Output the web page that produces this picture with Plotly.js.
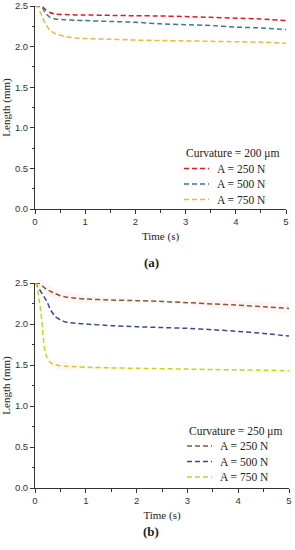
<!DOCTYPE html>
<html>
<head>
<meta charset="utf-8">
<script src="https://cdn.plot.ly/plotly-3.0.1.min.js"></script>
<style>html,body{margin:0;padding:0;background:#fff;}#chart{width:295px;height:550px;}</style>
</head>
<body>
<div id="chart"></div>
<script>
// ---- Data (a): curvature = 200 µm ----
const timeA = [0, 0.05, 0.1, 0.15, 0.2, 0.3, 0.4, 0.6, 0.8, 1.0, 1.5, 2, 2.5, 3, 3.5, 4, 4.5, 5];
const a250 = [2.5, 2.5, 2.5, 2.49, 2.46, 2.42, 2.40, 2.395, 2.39, 2.39, 2.385, 2.38, 2.377, 2.37, 2.36, 2.35, 2.34, 2.32];
const a500 = [2.5, 2.5, 2.5, 2.48, 2.42, 2.36, 2.34, 2.33, 2.325, 2.32, 2.31, 2.30, 2.28, 2.27, 2.26, 2.24, 2.23, 2.21];
const a750 = [2.5, 2.5, 2.43, 2.36, 2.29, 2.20, 2.16, 2.125, 2.105, 2.10, 2.09, 2.08, 2.075, 2.07, 2.065, 2.06, 2.055, 2.04];

// ---- Data (b): curvature = 250 µm ----
const timeB = [0, 0.03, 0.08, 0.12, 0.15, 0.18, 0.23, 0.3, 0.4, 0.5, 0.6, 0.8, 1.0, 1.5, 2, 2.5, 3, 3.5, 4, 4.5, 5];
const b250 = [2.5, 2.5, 2.495, 2.48, 2.46, 2.445, 2.42, 2.40, 2.37, 2.345, 2.33, 2.313, 2.305, 2.292, 2.285, 2.275, 2.26, 2.245, 2.23, 2.21, 2.19];
const b500 = [2.5, 2.48, 2.43, 2.39, 2.36, 2.33, 2.28, 2.18, 2.09, 2.05, 2.025, 2.01, 2.00, 1.98, 1.967, 1.957, 1.947, 1.93, 1.91, 1.885, 1.853];
const b750 = [2.5, 2.48, 2.30, 2.13, 1.93, 1.73, 1.60, 1.53, 1.505, 1.49, 1.485, 1.478, 1.472, 1.465, 1.46, 1.455, 1.45, 1.445, 1.44, 1.437, 1.43];
// faint shaded spread (b)
const b250Spread = [0, 0.01, 0.03, 0.05, 0.06, 0.06, 0.06, 0.06, 0.06, 0.06, 0.06, 0.06, 0.05, 0.03, 0.01, 0.01, 0.02, 0.05, 0.06, 0.06, 0.06];
const b750Spread = [0, 0, 0, 0, 0, 0, 0.03, 0.05, 0.05, 0.05, 0.05, 0.04, 0.02, 0.01, 0, 0, 0, 0, 0, 0, 0];

const seriesNames = ['A = 250 N', 'A = 500 N', 'A = 750 N'];
const legendTitles = ['Curvature = 200 μm', 'Curvature = 250 μm'];
const panelLabels = ['(a)', '(b)'];
const xTicks = [0, 1, 2, 3, 4, 5];
const yTicks = [0.0, 0.5, 1.0, 1.5, 2.0, 2.5];

const colorsA = ['#e3191c', '#3a7895', '#f5b43a'];
const colorsB = ['#8a5a24', '#3a4a9a', '#c8d41a'];

const serif = 'Liberation Serif, Times New Roman, serif';
const sans = 'Liberation Sans, Arial, sans-serif';
const DASH = '5px,3px';

function band(t, y, s, xa, ya) {
  const up = y.map((v, i) => v + s[i]);
  const lo = y.map((v, i) => v - s[i]);
  return {
    x: t.concat(t.slice().reverse()),
    y: up.concat(lo.slice().reverse()),
    xaxis: xa, yaxis: ya, type: 'scatter', mode: 'lines',
    fill: 'toself', fillcolor: 'rgba(255,170,190,0.13)',
    line: {width: 0, color: 'rgba(0,0,0,0)'}, hoverinfo: 'skip', showlegend: false
  };
}
function line(t, y, name, color, xa, ya) {
  return {
    x: t, y: y, name: name, xaxis: xa, yaxis: ya, type: 'scatter', mode: 'lines',
    line: {color: color, width: 1.5, dash: DASH, shape: 'spline', smoothing: 0.6},
    showlegend: false
  };
}

const traces = [
  band(timeB, b250, b250Spread, 'x3', 'y3'),
  band(timeB, b750, b750Spread, 'x3', 'y3'),
  line(timeA, a250, seriesNames[0], colorsA[0], 'x', 'y'),
  line(timeA, a500, seriesNames[1], colorsA[1], 'x', 'y'),
  line(timeA, a750, seriesNames[2], colorsA[2], 'x', 'y'),
  line(timeB, b250, seriesNames[0], colorsB[0], 'x3', 'y3'),
  line(timeB, b500, seriesNames[1], colorsB[1], 'x3', 'y3'),
  line(timeB, b750, seriesNames[2], colorsB[2], 'x3', 'y3')
];

const W = 295, H = 550;
const axCol = '#333';
const tickFont = {family: sans, size: 9.5, color: '#333'};
function px(v) { return v / W; }
function py(v) { return 1 - v / H; }

function mainX(dom, anchor) {
  return {
    domain: dom, anchor: anchor, range: [0, 5], tickvals: xTicks, ticktext: xTicks.map(String),
    ticks: 'outside', ticklen: 4, tickwidth: 1, tickcolor: axCol,
    minor: {ticks: 'outside', dtick: 0.5, ticklen: 2.5, tickcolor: axCol, showgrid: false},
    showline: true, linecolor: axCol, linewidth: 1, showgrid: false, zeroline: false,
    tickfont: tickFont,
    title: {text: 'Time (s)', font: {family: serif, size: 11, color: '#222'}, standoff: 5},
    fixedrange: true
  };
}
function topX(dom, anchor, over) {
  return {
    domain: dom, anchor: anchor, overlaying: over, side: 'top', range: [0, 5], tickvals: xTicks,
    ticks: 'inside', ticklen: 4, tickcolor: axCol, showticklabels: false,
    minor: {ticks: 'inside', dtick: 0.5, ticklen: 2.5, tickcolor: axCol, showgrid: false},
    showline: true, linecolor: axCol, linewidth: 1, showgrid: false, zeroline: false, fixedrange: true
  };
}
function mainY(dom, anchor) {
  return {
    domain: dom, anchor: anchor, range: [0, 2.5], tickvals: yTicks, ticktext: yTicks.map(v => v.toFixed(1)),
    ticks: 'outside', ticklen: 4, tickwidth: 1, tickcolor: axCol,
    minor: {ticks: 'outside', dtick: 0.25, ticklen: 2.5, tickcolor: axCol, showgrid: false},
    showline: true, linecolor: axCol, linewidth: 1, showgrid: false, zeroline: false,
    tickfont: tickFont,
    title: {text: 'Length (mm)', font: {family: serif, size: 11, color: '#222'}, standoff: 6},
    fixedrange: true
  };
}
function rightY(dom, anchor, over) {
  return {
    domain: dom, anchor: anchor, overlaying: over, side: 'right', range: [0, 2.5], tickvals: yTicks,
    ticks: 'inside', ticklen: 4, tickcolor: axCol, showticklabels: false,
    minor: {ticks: 'inside', dtick: 0.25, ticklen: 2.5, tickcolor: axCol, showgrid: false},
    showline: true, linecolor: axCol, linewidth: 1, showgrid: false, zeroline: false, fixedrange: true
  };
}

const xDomA = [px(35), px(286)], yDomA = [py(209), py(6)];
const xDomB = [px(35), px(289)], yDomB = [py(488), py(283)];

// custom legends (compact spacing like the reference)
const annotations = [];
const shapes = [];
function addLegend(title, names, colors, left, titleY, firstY, step) {
  const f = {family: serif, size: 11.5, color: '#222'};
  annotations.push({text: title, xref: 'paper', yref: 'paper', x: px(left), y: py(titleY),
    xanchor: 'left', yanchor: 'middle', showarrow: false, font: f});
  names.forEach((n, i) => {
    const yy = firstY + i * step;
    shapes.push({type: 'line', xref: 'paper', yref: 'paper', x0: px(left), x1: px(left + 25),
      y0: py(yy), y1: py(yy), line: {color: colors[i], width: 1.5, dash: DASH}});
    annotations.push({text: n, xref: 'paper', yref: 'paper', x: px(left + 31), y: py(yy),
      xanchor: 'left', yanchor: 'middle', showarrow: false, font: f});
  });
}
addLegend(legendTitles[0], seriesNames, colorsA, 184, 153, 168.5, 15.5);
addLegend(legendTitles[1], seriesNames, colorsB, 187, 431, 446, 15.5);

annotations.push({text: '<b>' + panelLabels[0] + '</b>', xref: 'paper', yref: 'paper', x: px(151), y: py(262),
  showarrow: false, font: {family: serif, size: 13, color: '#222'}});
annotations.push({text: '<b>' + panelLabels[1] + '</b>', xref: 'paper', yref: 'paper', x: px(151), y: py(541),
  showarrow: false, font: {family: serif, size: 13, color: '#222'}});

const layout = {
  width: W, height: H,
  margin: {l: 0, r: 0, t: 0, b: 0},
  paper_bgcolor: '#fff', plot_bgcolor: '#fff',
  showlegend: false,
  xaxis: mainX(xDomA, 'y'),
  yaxis: mainY(yDomA, 'x'),
  xaxis2: topX(xDomA, 'y', 'x'),
  yaxis2: rightY(yDomA, 'x', 'y'),
  xaxis3: mainX(xDomB, 'y3'),
  yaxis3: mainY(yDomB, 'x3'),
  xaxis4: topX(xDomB, 'y3', 'x3'),
  yaxis4: rightY(yDomB, 'x3', 'y3'),
  annotations: annotations,
  shapes: shapes
};

Plotly.newPlot('chart', traces, layout, {displayModeBar: false, staticPlot: true});
</script>
</body>
</html>
